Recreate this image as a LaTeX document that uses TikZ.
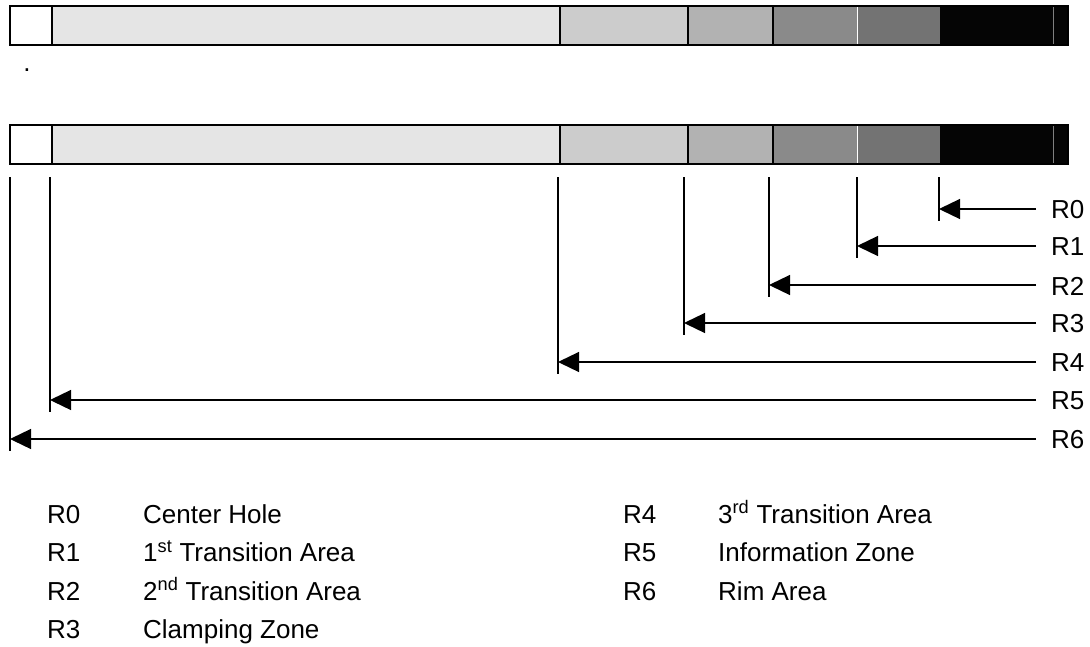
\documentclass[tikz,border=0pt]{standalone}
\usepackage{fontspec}
\setmainfont{Liberation Sans}
\usetikzlibrary{arrows.meta}

\begin{document}
\begin{tikzpicture}[x=1pt, y=-1pt, >={Triangle[length=21pt,width=20pt]},
  every node/.style={font=\fontsize{26}{30}\selectfont, inner sep=2pt},
  seg/.style={line width=2.2pt}, tick/.style={line width=1.3pt},
  ptr/.style={->, line width=1.3pt}]
\useasboundingbox (0,0) rectangle (1090,646);

% the two bars
\foreach \y in {6,125} {
  \foreach \a/\b/\c in {10/52/white, 52/560/black!10, 560/688/black!20, 688/773/black!30, 773/857/black!46, 857/940/black!55, 940/1068/black!98}
    \fill[\c] (\a,\y) rectangle (\b,\y+39);
  \draw[white, line width=1pt] (857,\y+1) -- (857,\y+38);
  \draw[black!50, line width=0.8pt] (1053,\y+1) -- (1053,\y+38);
  \foreach \x in {52,560,688,773}
    \draw[seg] (\x,\y) -- (\x,\y+39);
  \draw[seg] (10,\y) rectangle (1068,\y+39);
}
\node (dot) at (27,70) {.};

% radii
\foreach \i/\x/\y in {0/939/209, 1/857/246, 2/769/285, 3/684/323, 4/558/362, 5/50/400, 6/10/439} {
  \coordinate (top\i) at (\x,177);
  \coordinate (bot\i) at (\x,\y+12);
  \coordinate (hit\i) at (\x,\y);
  \coordinate (tail\i) at (1036,\y);
  \node[anchor=west] (R\i) at (1049,\y+1) {R\i};
  \draw[tick] (top\i) -- (bot\i);
  \draw[ptr] (tail\i) -- (hit\i);
}

% legend
\tikzset{key/.style={anchor=base west}}
\node[key] (k0) at (45,523) {R0};
\node[key] (d0) at (141,523) {Center Hole};
\node[key] (k1) at (45,561.5) {R1};
\node[key] (d1) at (141,561.5) {1\textsuperscript{st} Transition Area};
\node[key] (k2) at (45,600) {R2};
\node[key] (d2) at (141,600) {2\textsuperscript{nd} Transition Area};
\node[key] (k3) at (45,638.5) {R3};
\node[key] (d3) at (141,638.5) {Clamping Zone};
\node[key] (k4) at (621,523) {R4};
\node[key] (d4) at (716,523) {3\textsuperscript{rd} Transition Area};
\node[key] (k5) at (621,561.5) {R5};
\node[key] (d5) at (716,561.5) {Information Zone};
\node[key] (k6) at (621,600) {R6};
\node[key] (d6) at (716,600) {Rim Area};
\end{tikzpicture}
\end{document}
